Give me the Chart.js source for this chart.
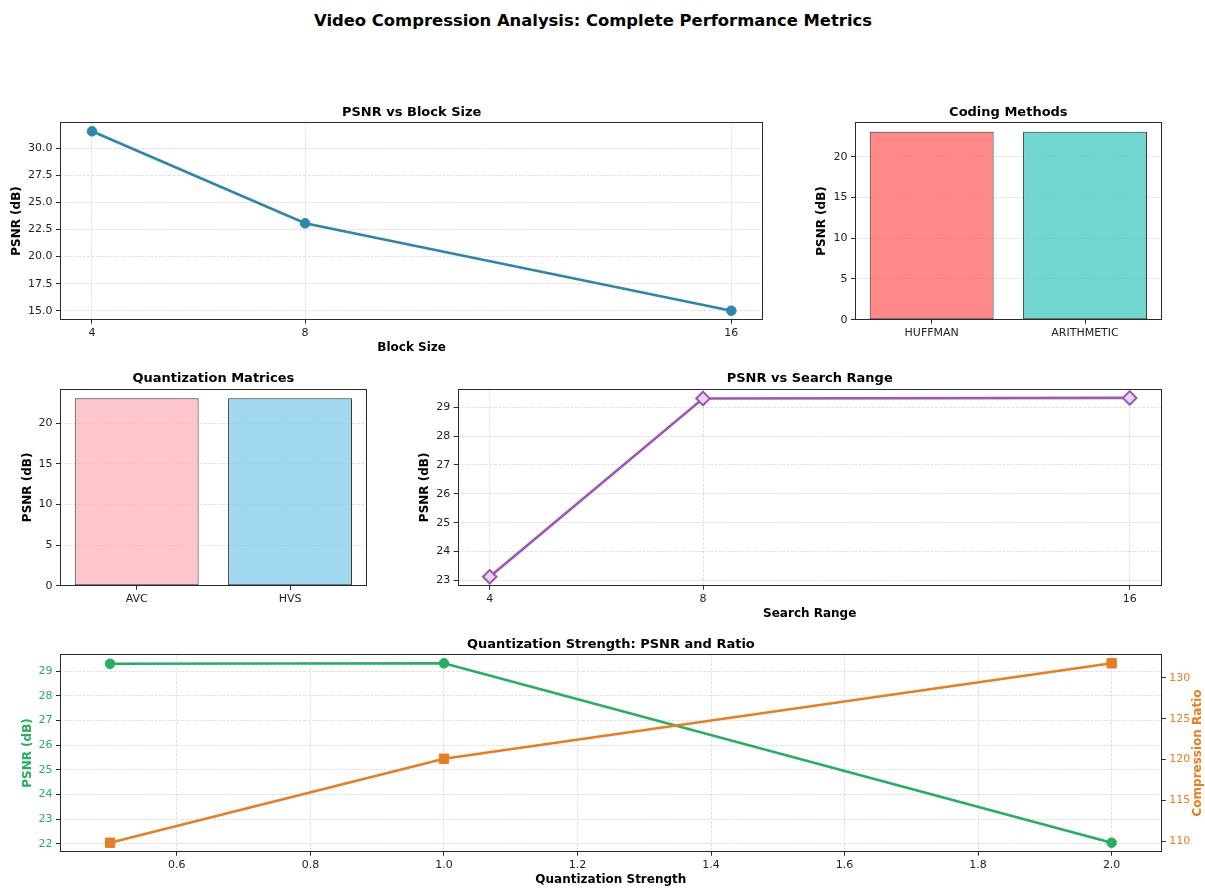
<!DOCTYPE html>
<html>
<head>
<meta charset="utf-8">
<script src="https://cdn.jsdelivr.net/npm/chart.js@4.4.1/dist/chart.umd.min.js"></script>
<style>
  html, body { margin: 0; padding: 0; background: #ffffff; }
  #fig { position: relative; width: 1205px; height: 889px; overflow: hidden; background: #ffffff; }
  #fig canvas { position: absolute; }
  #suptitle {
    position: absolute; left: 0; width: 1186px; top: 10px;
    text-align: center; font-family: "DejaVu Sans", sans-serif;
    font-weight: bold; font-size: 16.4px; line-height: 22px; color: #000;
  }
</style>
</head>
<body>
<div id="fig">
  <div id="suptitle">Video Compression Analysis: Complete Performance Metrics</div>
</div>
<script>
// ---- data ----
const blockSizes = [4, 8, 16];
const blockPsnr = [31.58, 23.08, 15.0];
const blockYTicks = [15.0, 17.5, 20.0, 22.5, 25.0, 27.5, 30.0];

const codingMethods = ['HUFFMAN', 'ARITHMETIC'];
const codingPsnr = [23.08, 23.08];

const quantMatrices = ['AVC', 'HVS'];
const quantMatrixPsnr = [23.08, 23.08];
const barYTicks = [0, 5, 10, 15, 20];

const searchRanges = [4, 8, 16];
const searchPsnr = [23.13, 29.30, 29.32];
const searchYTicks = [23, 24, 25, 26, 27, 28, 29];

const quantStrengths = [0.5, 1.0, 2.0];
const strengthPsnr = [29.30, 29.32, 22.04];
const strengthRatio = [109.8, 120.1, 131.8];
const strengthXTicks = [0.6, 0.8, 1.0, 1.2, 1.4, 1.6, 1.8, 2.0];
const strengthPsnrTicks = [22, 23, 24, 25, 26, 27, 28, 29];
const strengthRatioTicks = [110, 115, 120, 125, 130];

// ---- styling helpers ----
const FONT = 'DejaVu Sans';
const SPINE = '#2b2b2b';
const GRID = 'rgba(176,176,176,0.38)';
const TICK_FONT = { family: FONT, size: 11 };
const LABEL_FONT = { family: FONT, size: 12, weight: 'bold' };
const TITLE_FONT = { family: FONT, size: 13, weight: 'bold' };

Chart.defaults.font.family = FONT;
Chart.defaults.color = '#222';

// matplotlib-like limits: data range padded by 5% on each side
function padded(values, frac = 0.05) {
  const lo = Math.min(...values), hi = Math.max(...values);
  const m = (hi - lo) * frac;
  return { min: lo - m, max: hi + m };
}

// full box frame around the plot area
const framePlugin = {
  id: 'frame',
  afterDraw(chart) {
    const { ctx, chartArea: a } = chart;
    ctx.save();
    ctx.strokeStyle = SPINE;
    ctx.lineWidth = 1;
    const l = Math.round(a.left) + 0.5, t = Math.round(a.top) + 0.5;
    const r = Math.round(a.right) - 0.5, b = Math.round(a.bottom) - 0.5;
    ctx.strokeRect(l, t, r - l, b - t);
    ctx.restore();
  }
};

// rotated label for a right-hand axis, reading bottom to top
const rightLabelPlugin = {
  id: 'rightLabel',
  afterDraw(chart, args, opts) {
    if (!opts || !opts.text) return;
    const { ctx, chartArea: a } = chart;
    ctx.save();
    ctx.font = `bold ${opts.size}px "${FONT}"`;
    ctx.fillStyle = opts.color;
    ctx.textAlign = 'center';
    ctx.textBaseline = 'middle';
    ctx.translate(opts.x, (a.top + a.bottom) / 2);
    ctx.rotate(-Math.PI / 2);
    ctx.fillText(opts.text, 0, 0);
    ctx.restore();
  }
};

function fixedTicks(values) {
  return scale => { scale.ticks = values.map(v => ({ value: v })); };
}

function gridOpts(show) {
  return {
    display: true,
    drawOnChartArea: show,
    drawTicks: true,
    tickLength: 4,
    tickColor: SPINE,
    tickWidth: 1,
    color: GRID,
    lineWidth: 1,
    offset: false
  };
}

function makeCanvas(box) {
  const c = document.createElement('canvas');
  c.width = box.w; c.height = box.h;
  c.style.left = box.x + 'px'; c.style.top = box.y + 'px';
  c.style.width = box.w + 'px'; c.style.height = box.h + 'px';
  document.getElementById('fig').appendChild(c);
  return c;
}

function baseOptions(p) {
  return {
    responsive: false,
    animation: false,
    devicePixelRatio: 1,
    layout: { padding: { left: 0, top: 0, right: p.padRight, bottom: 0 } },
    plugins: {
      legend: { display: false },
      tooltip: { enabled: false },
      title: {
        display: true, text: p.title, font: TITLE_FONT, color: '#000',
        fullSize: false, padding: { top: p.titleTop, bottom: p.titleBottom }
      }
    }
  };
}

// ---- panel 1: PSNR vs Block Size ----
(function () {
  const box = { x: 0, y: 100, w: 775, h: 256 };
  const canvas = makeCanvas(box);
  const opts = baseOptions({ title: 'PSNR vs Block Size', padRight: 11.7, titleTop: 4.5, titleBottom: 2.2 });
  const yl = padded(blockPsnr);
  opts.scales = {
    x: {
      type: 'linear', min: 3.4, max: 16.6,
      afterBuildTicks: fixedTicks(blockSizes),
      afterFit: s => { s.height = 36.3; },
      grid: gridOpts(true), border: { display: false, dash: [3, 1.5] },
      ticks: { font: TICK_FONT, color: '#222', padding: 2.5, callback: v => String(v) },
      title: { display: true, text: 'Block Size', font: LABEL_FONT, color: '#000', padding: { top: 0, bottom: 0.5 } }
    },
    y: {
      min: yl.min, max: yl.max,
      afterBuildTicks: fixedTicks(blockYTicks),
      afterFit: s => { s.width = 60; },
      grid: gridOpts(true), border: { display: false, dash: [3, 1.5] },
      ticks: { font: TICK_FONT, color: '#222', padding: 3.5, callback: v => v.toFixed(1) },
      title: { display: true, text: 'PSNR (dB)', font: LABEL_FONT, color: '#000', padding: { top: 9.5, bottom: 0 } }
    }
  };
  new Chart(canvas, {
    type: 'line',
    data: {
      datasets: [{
        data: blockSizes.map((x, i) => ({ x, y: blockPsnr[i] })),
        borderColor: '#2E86AB', backgroundColor: '#2E86AB',
        borderWidth: 2.7, tension: 0,
        pointRadius: 4.8, pointBorderWidth: 1, pointBackgroundColor: '#2E86AB', pointBorderColor: '#2E86AB'
      }]
    },
    options: opts,
    plugins: [framePlugin]
  });
})();

// ---- bar panels ----
function barPanel(box, title, labels, values, colors, yAxisWidth, titleTop, titleBottom, ylabelPad, xHeight, padRight) {
  const canvas = makeCanvas(box);
  const opts = baseOptions({ title, padRight, titleTop, titleBottom });
  opts.scales = {
    x: {
      type: 'category', offset: true,
      afterFit: s => { s.height = xHeight; },
      grid: gridOpts(false), border: { display: false },
      ticks: { font: TICK_FONT, color: '#222', padding: 2.5 }
    },
    y: {
      min: 0, max: Math.max(...values) * 1.05,
      afterBuildTicks: fixedTicks(barYTicks),
      afterFit: s => { s.width = yAxisWidth; },
      grid: gridOpts(true), border: { display: false, dash: [3, 1.5] },
      ticks: { font: TICK_FONT, color: '#222', padding: 3.5, callback: v => String(v) },
      title: { display: true, text: 'PSNR (dB)', font: LABEL_FONT, color: '#000', padding: { top: ylabelPad, bottom: 0 } }
    }
  };
  new Chart(canvas, {
    type: 'bar',
    data: {
      labels,
      datasets: [{
        data: values,
        backgroundColor: colors,
        borderColor: 'rgba(20,20,20,0.85)',
        borderWidth: 1,
        borderSkipped: false,
        categoryPercentage: 1.0,
        barPercentage: 0.808
      }]
    },
    options: opts,
    plugins: [framePlugin]
  });
}

barPanel({ x: 800, y: 100, w: 375, h: 256 }, 'Coding Methods', codingMethods, codingPsnr,
  ['rgba(255,107,107,0.8)', 'rgba(78,205,196,0.8)'], 55, 4.5, 2.2, 14.5, 36.3, 13.3);

barPanel({ x: 0, y: 368, w: 380, h: 252 }, 'Quantization Matrices', quantMatrices, quantMatrixPsnr,
  ['rgba(255,182,193,0.8)', 'rgba(135,206,235,0.8)'], 60, 2.5, 2.9, 20.5, 34.3, 13.3);

// ---- panel 4: PSNR vs Search Range ----
(function () {
  const box = { x: 400, y: 368, w: 775, h: 257 };
  const canvas = makeCanvas(box);
  const opts = baseOptions({ title: 'PSNR vs Search Range', padRight: 13.3, titleTop: 2.5, titleBottom: 2.9 });
  const yl = padded(searchPsnr);
  opts.scales = {
    x: {
      type: 'linear', min: 3.4, max: 16.6,
      afterBuildTicks: fixedTicks(searchRanges),
      afterFit: s => { s.height = 39.3; },
      grid: gridOpts(true), border: { display: false, dash: [3, 1.5] },
      ticks: { font: TICK_FONT, color: '#222', padding: 2.5, callback: v => String(v) },
      title: { display: true, text: 'Search Range', font: LABEL_FONT, color: '#000', padding: { top: 0, bottom: 3.5 } }
    },
    y: {
      min: yl.min, max: yl.max,
      afterBuildTicks: fixedTicks(searchYTicks),
      afterFit: s => { s.width = 57.7; },
      grid: gridOpts(true), border: { display: false, dash: [3, 1.5] },
      ticks: { font: TICK_FONT, color: '#222', padding: 3.5, callback: v => String(v) },
      title: { display: true, text: 'PSNR (dB)', font: LABEL_FONT, color: '#000', padding: { top: 17.8, bottom: 0 } }
    }
  };
  new Chart(canvas, {
    type: 'line',
    data: {
      datasets: [{
        data: searchRanges.map((x, i) => ({ x, y: searchPsnr[i] })),
        borderColor: '#9B59B6', backgroundColor: '#9B59B6',
        borderWidth: 2.7, tension: 0,
        pointStyle: 'rectRot', pointRadius: 6.8, pointBorderWidth: 2,
        pointBackgroundColor: '#E8D6F0', pointBorderColor: '#9B59B6'
      }]
    },
    options: opts,
    plugins: [framePlugin]
  });
})();

// ---- panel 5: Quantization Strength, two y axes ----
(function () {
  const box = { x: 0, y: 632, w: 1205, h: 257 };
  const canvas = makeCanvas(box);
  const opts = baseOptions({ title: 'Quantization Strength: PSNR and Ratio', padRight: 0, titleTop: 5.2, titleBottom: 1.5 });
  const yl = padded(strengthPsnr);
  const yr = padded(strengthRatio);
  const xl = padded(quantStrengths);
  opts.plugins.rightLabel = { text: 'Compression Ratio', color: '#E67E22', size: 12, x: 1198.3 };
  opts.scales = {
    x: {
      type: 'linear', min: xl.min, max: xl.max,
      afterBuildTicks: fixedTicks(strengthXTicks),
      afterFit: s => { s.height = 37.3; },
      grid: gridOpts(true), border: { display: false, dash: [3, 1.5] },
      ticks: { font: TICK_FONT, color: '#222', padding: 2.5, callback: v => v.toFixed(1) },
      title: { display: true, text: 'Quantization Strength', font: LABEL_FONT, color: '#000', padding: { top: 0, bottom: 1.8 } }
    },
    y: {
      position: 'left', min: yl.min, max: yl.max,
      afterBuildTicks: fixedTicks(strengthPsnrTicks),
      afterFit: s => { s.width = 60; },
      grid: gridOpts(true), border: { display: false, dash: [3, 1.5] },
      ticks: { font: TICK_FONT, color: '#27AE60', padding: 3.5, callback: v => String(v) },
      title: { display: true, text: 'PSNR (dB)', font: LABEL_FONT, color: '#27AE60', padding: { top: 20.5, bottom: 0 } }
    },
    y1: {
      position: 'right', min: yr.min, max: yr.max,
      afterBuildTicks: fixedTicks(strengthRatioTicks),
      afterFit: s => { s.width = 43.3; },
      grid: gridOpts(false), border: { display: false },
      ticks: { font: TICK_FONT, color: '#E67E22', padding: 3.5, callback: v => String(v) }
    }
  };
  new Chart(canvas, {
    type: 'line',
    data: {
      datasets: [
        {
          label: 'Compression Ratio', yAxisID: 'y1', order: 0,
          data: quantStrengths.map((x, i) => ({ x, y: strengthRatio[i] })),
          borderColor: '#E67E22', backgroundColor: '#E67E22',
          borderWidth: 2.7, tension: 0,
          pointStyle: 'rect', pointRadius: 6.6, pointBorderWidth: 1,
          pointBackgroundColor: '#E67E22', pointBorderColor: '#E67E22'
        },
        {
          label: 'PSNR', yAxisID: 'y', order: 1,
          data: quantStrengths.map((x, i) => ({ x, y: strengthPsnr[i] })),
          borderColor: '#27AE60', backgroundColor: '#27AE60',
          borderWidth: 2.7, tension: 0,
          pointRadius: 4.8, pointBorderWidth: 1,
          pointBackgroundColor: '#27AE60', pointBorderColor: '#27AE60'
        }
      ]
    },
    options: opts,
    plugins: [framePlugin, rightLabelPlugin]
  });
})();
</script>
</body>
</html>
